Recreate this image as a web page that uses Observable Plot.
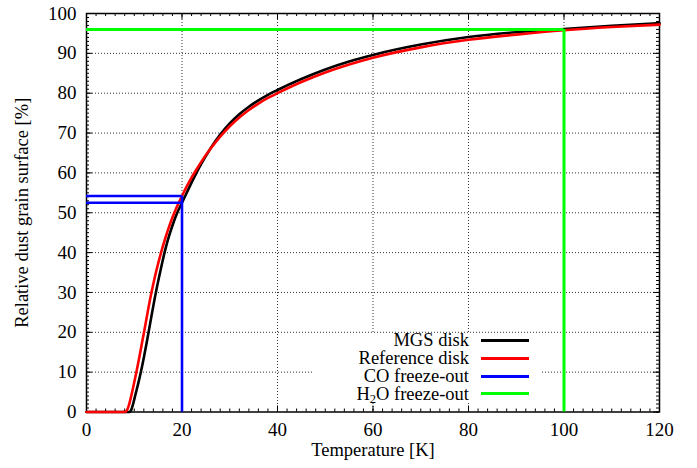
<!DOCTYPE html>
<html><head><meta charset="utf-8">
<script src="https://cdn.jsdelivr.net/npm/d3@7"></script>
<script src="https://cdn.jsdelivr.net/npm/@observablehq/plot@0.6"></script>
<style>
body{margin:0;background:#fff;}
#wrap{position:relative;width:697px;height:468px;font-family:"Liberation Serif",serif;}
#legend{position:absolute;left:312px;top:333px;width:228px;height:70px;background:#fff;}
.row{position:absolute;left:0;width:228px;height:0;}
.row span{position:absolute;right:71px;top:0;transform:translateY(-50%);font-size:18.5px;white-space:nowrap;line-height:15px;}
.row i{position:absolute;left:169px;width:48px;height:3px;top:-1.5px;}
sub{font-size:12.5px;vertical-align:-3px;line-height:0;}
</style>
</head><body><div id="wrap"></div>
<script>
// Data
const mgsT = [0, 9.0, 9.4, 9.8, 10.3, 10.8, 11.4, 12.0, 12.6, 13.1, 13.7, 14.3, 14.8, 15.5, 16.3, 17, 18, 19, 20, 21, 22, 23, 24, 26, 28, 30, 32, 34, 36, 38, 40, 45, 50, 55, 60, 70, 80, 90, 100, 110, 120];
const mgsS = [0, 0, 0.6, 2.2, 4.6, 7, 10.1, 13.6, 17.4, 20.7, 24.7, 28.6, 31.6, 35.5, 39.8, 43.0, 46.8, 50.0, 52.5, 55.05, 57.55, 59.95, 62.2, 66.2, 69.6, 72.4, 74.7, 76.6, 78.2, 79.6, 80.8, 83.55, 85.95, 87.95, 89.6, 92.2, 94.1, 95.3, 96.1, 96.9, 97.6];
const refT = [0, 8.1, 8.5, 8.9, 9.4, 9.9, 10.5, 11.1, 11.6, 12.2, 12.8, 13.4, 14.0, 14.8, 15.5, 16.5, 17.5, 18.5, 20, 21, 22, 23, 24, 26, 28, 30, 32, 34, 36, 38, 40, 45, 50, 55, 60, 70, 80, 90, 100, 110, 120];
const refS = [0, 0, 0.5, 1.8, 4.2, 6.9, 10.3, 14, 17.2, 21, 25, 28.8, 32.2, 36.3, 39.5, 43.6, 47.2, 50.3, 54.2, 56.6, 58.8, 60.8, 62.7, 66.1, 69.1, 71.7, 73.9, 75.8, 77.4, 78.8, 80.0, 82.8, 85.2, 87.2, 88.9, 91.5, 93.4, 94.7, 95.8, 96.6, 97.2];
const coT = 20;
const coLevels = [52.5, 54.2];
const h2oT = 100;
const h2oLevel = 96;
const xTicks = [0, 20, 40, 60, 80, 100, 120];
const yTicks = [0, 10, 20, 30, 40, 50, 60, 70, 80, 90, 100];
const seriesNames = ["MGS disk", "Reference disk", "CO freeze-out", "H<sub>2</sub>O freeze-out"];
const seriesColors = ["#000000", "#ff0000", "#0000ff", "#00ff00"];
const xLabel = "Temperature [K]";
const yLabel = "Relative dust grain surface [%]";

const xMinor = d3.range(0, 120.5, 2);
const yMinor = d3.range(0, 100.5, 1);
const xGrid = xTicks.slice(1, -1);
const yGrid = yTicks.slice(1, -1);

const mgs = mgsT.map((t, i) => ({t, s: mgsS[i]}));
const ref = refT.map((t, i) => ({t, s: refS[i]}));

const gridStyle = {stroke: "#000", strokeOpacity: 0.8, strokeWidth: 1, strokeDasharray: "1,2"};
const tk = {stroke: "#000", strokeWidth: 1};

const chart = Plot.plot({
  width: 697, height: 468,
  marginLeft: 86, marginRight: 38, marginTop: 13, marginBottom: 56.5,
  x: {domain: [0, 120]},
  y: {domain: [0, 100]},
  style: {fontFamily: "'Liberation Serif', serif", fontSize: "19px", color: "#000", background: "#fff"},
  marks: [
    Plot.gridX(xGrid, gridStyle),
    Plot.gridY(yGrid, gridStyle),
    Plot.frame({stroke: "#000", strokeWidth: 1.5}),
    Plot.ruleX(xMinor, {...tk, y1: 0, y2: 0, insetTop: -3}),
    Plot.ruleX(xMinor, {...tk, y1: 100, y2: 100, insetBottom: -3}),
    Plot.ruleX(xTicks, {...tk, y1: 0, y2: 0, insetTop: -6}),
    Plot.ruleX(xTicks, {...tk, y1: 100, y2: 100, insetBottom: -6}),
    Plot.ruleY(yMinor, {...tk, x1: 0, x2: 0, insetRight: -3}),
    Plot.ruleY(yMinor, {...tk, x1: 120, x2: 120, insetLeft: -3}),
    Plot.ruleY(yTicks, {...tk, x1: 0, x2: 0, insetRight: -6}),
    Plot.ruleY(yTicks, {...tk, x1: 120, x2: 120, insetLeft: -6}),
    Plot.line(mgs, {x: "t", y: "s", stroke: seriesColors[0], strokeWidth: 2.6, curve: "monotone-x"}),
    Plot.line(ref, {x: "t", y: "s", stroke: seriesColors[1], strokeWidth: 2.6, curve: "monotone-x"}),
    Plot.ruleY(coLevels, {x1: 0, x2: coT, stroke: seriesColors[2], strokeWidth: 2.6}),
    Plot.ruleX([coT], {y1: 0, y2: d3.max(coLevels), stroke: seriesColors[2], strokeWidth: 2.6}),
    Plot.ruleY([h2oLevel], {x1: 0, x2: h2oT, stroke: seriesColors[3], strokeWidth: 3}),
    Plot.ruleX([h2oT], {y1: 0, y2: h2oLevel, stroke: seriesColors[3], strokeWidth: 3}),
    Plot.axisX({ticks: xTicks, tickSize: 0, tickPadding: 10, label: null}),
    Plot.axisY({ticks: yTicks, tickSize: 0, tickPadding: 10, label: null}),
    Plot.text([xLabel], {frameAnchor: "bottom", dy: 44, fontSize: 18.5}),
    Plot.text([yLabel], {frameAnchor: "left", textAnchor: "middle", rotate: -90, dx: -64, fontSize: 18.5})
  ]
});
const wrap = document.getElementById("wrap");
wrap.appendChild(chart);

const legend = document.createElement("div");
legend.id = "legend";
const rowTops = [7.4, 25.2, 43.0, 60.8];
seriesNames.forEach((name, i) => {
  const row = document.createElement("div");
  row.className = "row";
  row.style.top = rowTops[i] + "px";
  row.innerHTML = `<span>${name}</span><i style="background:${seriesColors[i]}"></i>`;
  legend.appendChild(row);
});
wrap.appendChild(legend);
</script>
</body></html>
